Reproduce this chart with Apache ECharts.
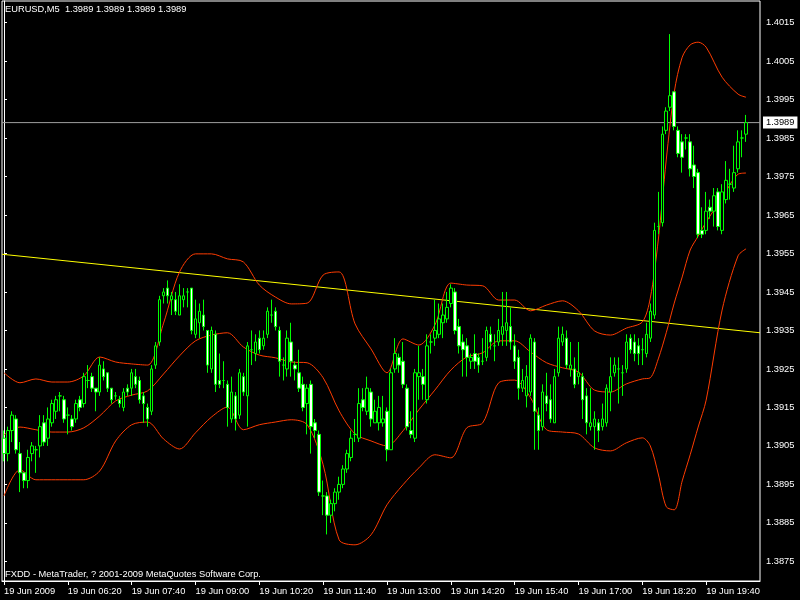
<!DOCTYPE html>
<html><head><meta charset="utf-8">
<script src="https://cdn.jsdelivr.net/npm/echarts@6/dist/echarts.min.js"></script>
<style>html,body{margin:0;padding:0;background:#000}#c{width:800px;height:600px}</style>
</head><body><div id="c"></div>
<script>
const symbolTitle = 'EURUSD,M5  1.3989 1.3989 1.3989 1.3989';
const footerText = 'FXDD - MetaTrader, ? 2001-2009 MetaQuotes Software Corp.';
const timeLabels = ['19 Jun 2009','19 Jun 06:20','19 Jun 07:40','19 Jun 09:00','19 Jun 10:20','19 Jun 11:40','19 Jun 13:00','19 Jun 14:20','19 Jun 15:40','19 Jun 17:00','19 Jun 18:20','19 Jun 19:40'];
const priceTicks = [1.3875,1.3885,1.3895,1.3905,1.3915,1.3925,1.3935,1.3945,1.3955,1.3965,1.3975,1.3985,1.3995,1.4005,1.4015];
const lastPrice = 1.3989;
const barCount = 190;

const openP = [
1.3907,1.3903,1.3909,1.3912,1.3903,1.3898,1.3896,1.3903,1.3904,1.3905,
1.3911,1.3907,1.3911,1.3914,1.3918,1.3917,1.3913,1.3912,1.3912,1.3917,
1.3916,1.3922,1.3923,1.3920,1.3919,1.3925,1.3924,1.3920,1.3918,1.3917,
1.3915,1.3920,1.3920,1.3923,1.3922,1.3918,1.3915,1.3914,1.3926,1.3932,
1.3944,1.3946,1.3943,1.3943,1.3939,1.3943,1.3945,1.3946,1.3934,1.3937,
1.3939,1.3935,1.3925,1.3934,1.3922,1.3922,1.3921,1.3912,1.3918,1.3913,
1.3923,1.3918,1.3930,1.3929,1.3933,1.3931,1.3934,1.3939,1.3940,1.3935,
1.3926,1.3925,1.3932,1.3926,1.3924,1.3921,1.3916,1.3921,1.3911,1.3908,
1.3892,1.3892,1.3887,1.3890,1.3893,1.3895,1.3899,1.3902,1.3908,1.3907,
1.3917,1.3914,1.3919,1.3911,1.3911,1.3911,1.3914,1.3904,1.3925,1.3928,
1.3927,1.3920,1.3909,1.3907,1.3923,1.3923,1.3917,1.3932,1.3933,1.3934,
1.3937,1.3938,1.3942,1.3945,1.3936,1.3932,1.3931,1.3927,1.3929,1.3928,
1.3927,1.3928,1.3934,1.3931,1.3932,1.3934,1.3935,1.3936,1.3931,1.3928,
1.3920,1.3918,1.3919,1.3932,1.3913,1.3910,1.3918,1.3917,1.3911,1.3924,
1.3932,1.3933,1.3925,1.3925,1.3923,1.3923,1.3918,1.3910,1.3910,1.3911,
1.3910,1.3911,1.3919,1.3924,1.3925,1.3924,1.3925,1.3933,1.3932,1.3931,
1.3930,1.3929,1.3933,1.3939,1.3962,1.3963,1.3987,1.3993,1.3997,1.3987,
1.3984,1.3985,1.3984,1.3978,1.3976,1.3961,1.3961,1.3967,1.3966,1.3971,
1.3961,1.3969,1.3973,1.3972,1.3977,1.3985,1.3986];
const highP = [
1.3909,1.3910,1.3914,1.3913,1.3906,1.3898,1.3904,1.3906,1.3905,1.3913,
1.3913,1.3915,1.3917,1.3918,1.3919,1.3918,1.3915,1.3913,1.3917,1.3918,
1.3924,1.3926,1.3924,1.3920,1.3928,1.3927,1.3924,1.3920,1.3919,1.3918,
1.3920,1.3921,1.3925,1.3925,1.3923,1.3919,1.3916,1.3926,1.3932,1.3944,
1.3946,1.3948,1.3945,1.3945,1.3947,1.3946,1.3946,1.3946,1.3943,1.3942,
1.3943,1.3935,1.3936,1.3935,1.3929,1.3927,1.3922,1.3923,1.3919,1.3925,
1.3924,1.3932,1.3935,1.3934,1.3935,1.3935,1.3941,1.3943,1.3941,1.3936,
1.3928,1.3935,1.3937,1.3927,1.3930,1.3923,1.3921,1.3922,1.3912,1.3909,
1.3896,1.3893,1.3891,1.3894,1.3897,1.3900,1.3904,1.3909,1.3912,1.3920,
1.3920,1.3923,1.3920,1.3917,1.3918,1.3918,1.3915,1.3925,1.3933,1.3929,
1.3932,1.3921,1.3914,1.3925,1.3931,1.3925,1.3934,1.3934,1.3943,1.3942,
1.3942,1.3945,1.3947,1.3946,1.3938,1.3934,1.3933,1.3929,1.3934,1.3929,
1.3933,1.3936,1.3936,1.3934,1.3938,1.3945,1.3945,1.3941,1.3934,1.3930,
1.3925,1.3926,1.3934,1.3933,1.3915,1.3921,1.3924,1.3921,1.3925,1.3936,
1.3936,1.3935,1.3932,1.3928,1.3932,1.3924,1.3920,1.3920,1.3914,1.3912,
1.3916,1.3921,1.3928,1.3928,1.3928,1.3926,1.3934,1.3934,1.3934,1.3933,
1.3933,1.3937,1.3942,1.3963,1.3971,1.3988,1.3993,1.4012,1.3997,1.3988,
1.3986,1.3986,1.3986,1.3983,1.3977,1.3967,1.3971,1.3969,1.3972,1.3972,
1.3973,1.3979,1.3977,1.3983,1.3987,1.3987,1.3991];
const lowP = [
1.3901,1.3901,1.3906,1.3903,1.3893,1.3894,1.3894,1.3901,1.3898,1.3902,
1.3905,1.3905,1.3910,1.3912,1.3914,1.3911,1.3908,1.3909,1.3911,1.3914,
1.3915,1.3920,1.3919,1.3914,1.3918,1.3922,1.3919,1.3916,1.3917,1.3915,
1.3914,1.3918,1.3918,1.3920,1.3916,1.3911,1.3910,1.3913,1.3925,1.3931,
1.3942,1.3942,1.3939,1.3939,1.3939,1.3941,1.3941,1.3934,1.3933,1.3933,
1.3935,1.3924,1.3924,1.3919,1.3920,1.3920,1.3910,1.3911,1.3909,1.3912,
1.3918,1.3910,1.3926,1.3927,1.3929,1.3930,1.3933,1.3937,1.3935,1.3923,
1.3922,1.3923,1.3923,1.3922,1.3919,1.3914,1.3908,1.3903,1.3907,1.3892,
1.3887,1.3882,1.3885,1.3888,1.3891,1.3894,1.3898,1.3901,1.3906,1.3906,
1.3914,1.3913,1.3910,1.3911,1.3909,1.3910,1.3901,1.3904,1.3924,1.3924,
1.3920,1.3909,1.3907,1.3906,1.3917,1.3917,1.3916,1.3929,1.3931,1.3933,
1.3933,1.3937,1.3941,1.3934,1.3929,1.3923,1.3923,1.3925,1.3925,1.3924,
1.3926,1.3927,1.3930,1.3927,1.3931,1.3931,1.3931,1.3930,1.3925,1.3917,
1.3919,1.3915,1.3918,1.3904,1.3904,1.3909,1.3914,1.3911,1.3911,1.3923,
1.3931,1.3925,1.3923,1.3920,1.3921,1.3912,1.3908,1.3909,1.3904,1.3906,
1.3909,1.3910,1.3914,1.3923,1.3916,1.3918,1.3924,1.3929,1.3927,1.3926,
1.3926,1.3928,1.3932,1.3938,1.3960,1.3962,1.3986,1.3992,1.3987,1.3980,
1.3976,1.3982,1.3975,1.3972,1.3959,1.3959,1.3960,1.3964,1.3962,1.3961,
1.3960,1.3968,1.3969,1.3971,1.3976,1.3980,1.3984];
const closeP = [
1.3903,1.3909,1.3913,1.3904,1.3898,1.3896,1.3902,1.3905,1.3904,1.3910,
1.3906,1.3912,1.3916,1.3917,1.3918,1.3912,1.3913,1.3910,1.3916,1.3915,
1.3923,1.3922,1.3920,1.3919,1.3926,1.3923,1.3920,1.3917,1.3918,1.3916,
1.3919,1.3919,1.3924,1.3921,1.3917,1.3916,1.3912,1.3925,1.3931,1.3943,
1.3945,1.3944,1.3944,1.3940,1.3944,1.3944,1.3945,1.3935,1.3938,1.3940,
1.3936,1.3926,1.3935,1.3921,1.3921,1.3922,1.3915,1.3919,1.3912,1.3924,
1.3919,1.3931,1.3930,1.3932,1.3930,1.3933,1.3940,1.3939,1.3936,1.3927,
1.3926,1.3933,1.3927,1.3925,1.3920,1.3915,1.3920,1.3910,1.3909,1.3893,
1.3892,1.3887,1.3890,1.3893,1.3895,1.3899,1.3903,1.3907,1.3908,1.3916,
1.3915,1.3920,1.3912,1.3914,1.3915,1.3912,1.3904,1.3924,1.3929,1.3926,
1.3921,1.3910,1.3908,1.3924,1.3924,1.3921,1.3931,1.3932,1.3935,1.3938,
1.3939,1.3941,1.3946,1.3935,1.3931,1.3930,1.3928,1.3928,1.3927,1.3926,
1.3927,1.3935,1.3932,1.3931,1.3935,1.3936,1.3937,1.3932,1.3927,1.3920,
1.3922,1.3923,1.3933,1.3914,1.3909,1.3919,1.3916,1.3912,1.3923,1.3933,
1.3934,1.3926,1.3926,1.3921,1.3924,1.3917,1.3911,1.3911,1.3912,1.3909,
1.3912,1.3920,1.3923,1.3926,1.3925,1.3924,1.3932,1.3930,1.3929,1.3929,
1.3930,1.3934,1.3940,1.3961,1.3962,1.3986,1.3992,1.3996,1.3988,1.3981,
1.3980,1.3985,1.3977,1.3975,1.3960,1.3960,1.3966,1.3966,1.3970,1.3962,
1.3971,1.3974,1.3973,1.3976,1.3984,1.3985,1.3989];

const bandIdx = [0,4,8,12,16,20,24,28,32,36,40,44,48,52,56,60,64,68,72,76,80,84,88,92,96,100,104,108,112,116,120,124,128,132,136,140,144,148,152,156,160,162,164,166,168,170,172,174,176,180,184,186];
const upperBand = [1.39240,1.39214,1.39224,1.39216,1.39216,1.39232,1.39281,1.39268,1.39263,1.39260,1.39369,1.39502,1.39549,1.39549,1.39536,1.39528,1.39468,1.39437,1.39419,1.39421,1.39494,1.39502,1.39367,1.39302,1.39240,1.39328,1.39312,1.39364,1.39473,1.39468,1.39466,1.39429,1.39429,1.39401,1.39416,1.39427,1.39401,1.39349,1.39338,1.39356,1.39372,1.39434,1.39585,1.39793,1.39969,1.40060,1.40092,1.40099,1.40086,1.40008,1.39964,1.39956];
const middleBand = [1.39079,1.39099,1.39092,1.39086,1.39086,1.39097,1.39128,1.39167,1.39182,1.39193,1.39237,1.39284,1.39323,1.39338,1.39344,1.39307,1.39286,1.39279,1.39268,1.39266,1.39227,1.39141,1.39081,1.39063,1.39050,1.39089,1.39144,1.39195,1.39247,1.39281,1.39292,1.39323,1.39323,1.39294,1.39266,1.39253,1.39242,1.39195,1.39190,1.39211,1.39224,1.39227,1.39276,1.39344,1.39421,1.39489,1.39559,1.39595,1.39632,1.39694,1.39756,1.39759];
const lowerBand = [1.38920,1.38988,1.38962,1.38962,1.38962,1.38962,1.38985,1.39063,1.39105,1.39112,1.39068,1.39042,1.39084,1.39125,1.39151,1.39092,1.39105,1.39112,1.39118,1.39105,1.39001,1.38806,1.38793,1.38819,1.38897,1.38949,1.38993,1.39027,1.39019,1.39097,1.39110,1.39214,1.39221,1.39175,1.39092,1.39086,1.39081,1.39045,1.39037,1.39058,1.39071,1.39050,1.38977,1.38892,1.38884,1.38959,1.39027,1.39099,1.39169,1.39403,1.39544,1.39562];

const trendIdx = [-0.5, 189.5];
const trendPrice = [1.39548, 1.39344];

const FONT = 'Liberation Sans';
const FS = 9.3;
const BAND_COLOR = '#ff3c00';

const cats = [];
for (let i = 0; i < barCount; i++) cats.push(String(i));
const candles = openP.map((o, i) => [o, closeP[i], lowP[i], highP[i]]);
const pairs = arr => bandIdx.map((ix, k) => [ix, arr[k]]);

const chart = echarts.init(document.getElementById('c'), null, {renderer: 'canvas'});
chart.setOption({
  backgroundColor: '#000',
  animation: false,
  textStyle: {fontFamily: FONT},
  title: [
    {text: symbolTitle, left: 5, top: 5, padding: 0, textStyle: {color: '#fff', fontSize: FS, fontWeight: 'normal', fontFamily: FONT}},
    {text: footerText, left: 5, top: 570, padding: 0, textStyle: {color: '#fff', fontSize: FS, fontWeight: 'normal', fontFamily: FONT}}
  ],
  grid: {left: 2, right: 40, top: 1, bottom: 19, show: true, borderColor: '#fff', borderWidth: 1, backgroundColor: '#000'},
  xAxis: [{
    type: 'category', data: cats, boundaryGap: true,
    axisLine: {show: true, lineStyle: {color: '#fff', width: 1}},
    axisTick: {show: true, interval: 15, alignWithLabel: true, length: 4, lineStyle: {color: '#fff'}},
    axisLabel: {interval: 15, align: 'left', color: '#fff', fontSize: FS, fontFamily: FONT, margin: 6,
      formatter: (v, i) => timeLabels[Math.round(i / 16)] || ''},
    splitLine: {show: false}
  }, {
    type: 'value', min: trendIdx[0], max: trendIdx[1], show: false
  }],
  yAxis: {
    type: 'value', position: 'right', min: 1.38699, max: 1.40206, scale: true,
    axisLine: {show: true, lineStyle: {color: '#fff'}},
    axisTick: {show: true, length: 3, customValues: priceTicks, lineStyle: {color: '#fff'}},
    axisLabel: {color: '#fff', fontSize: FS, fontFamily: FONT, margin: 6, customValues: priceTicks,
      formatter: v => v.toFixed(4)},
    splitLine: {show: false}
  },
  series: [
    {type: 'line', data: [[trendIdx[0], lastPrice], [trendIdx[1], lastPrice]], xAxisIndex: 1,
      symbol: 'none', lineStyle: {color: '#a0a0a0', width: 1}, silent: true, z: 1,
      endLabel: {show: true, formatter: lastPrice.toFixed(4), color: '#000', backgroundColor: '#fff',
        padding: [2, 3, 1, 3], fontSize: FS, fontFamily: FONT, distance: 3}},
    {type: 'line', data: [[trendIdx[0], trendPrice[0]], [trendIdx[1], trendPrice[1]]], xAxisIndex: 1,
      symbol: 'none', lineStyle: {color: '#ffff00', width: 1}, silent: true, z: 1},
    {type: 'line', data: pairs(upperBand), symbol: 'none', smooth: 0.3, lineStyle: {color: BAND_COLOR, width: 1}, silent: true, z: 2},
    {type: 'line', data: pairs(middleBand), symbol: 'none', smooth: 0.3, lineStyle: {color: BAND_COLOR, width: 1}, silent: true, z: 2},
    {type: 'line', data: pairs(lowerBand), symbol: 'none', smooth: 0.3, lineStyle: {color: BAND_COLOR, width: 1}, silent: true, z: 2},
    {type: 'candlestick', data: candles, barWidth: 3, z: 3,
      itemStyle: {color: '#000', color0: '#fff', borderColor: '#00ff00', borderColor0: '#00ff00', borderColorDoji: '#00ff00', borderWidth: 1}
    }
  ]
});
</script>
</body></html>
